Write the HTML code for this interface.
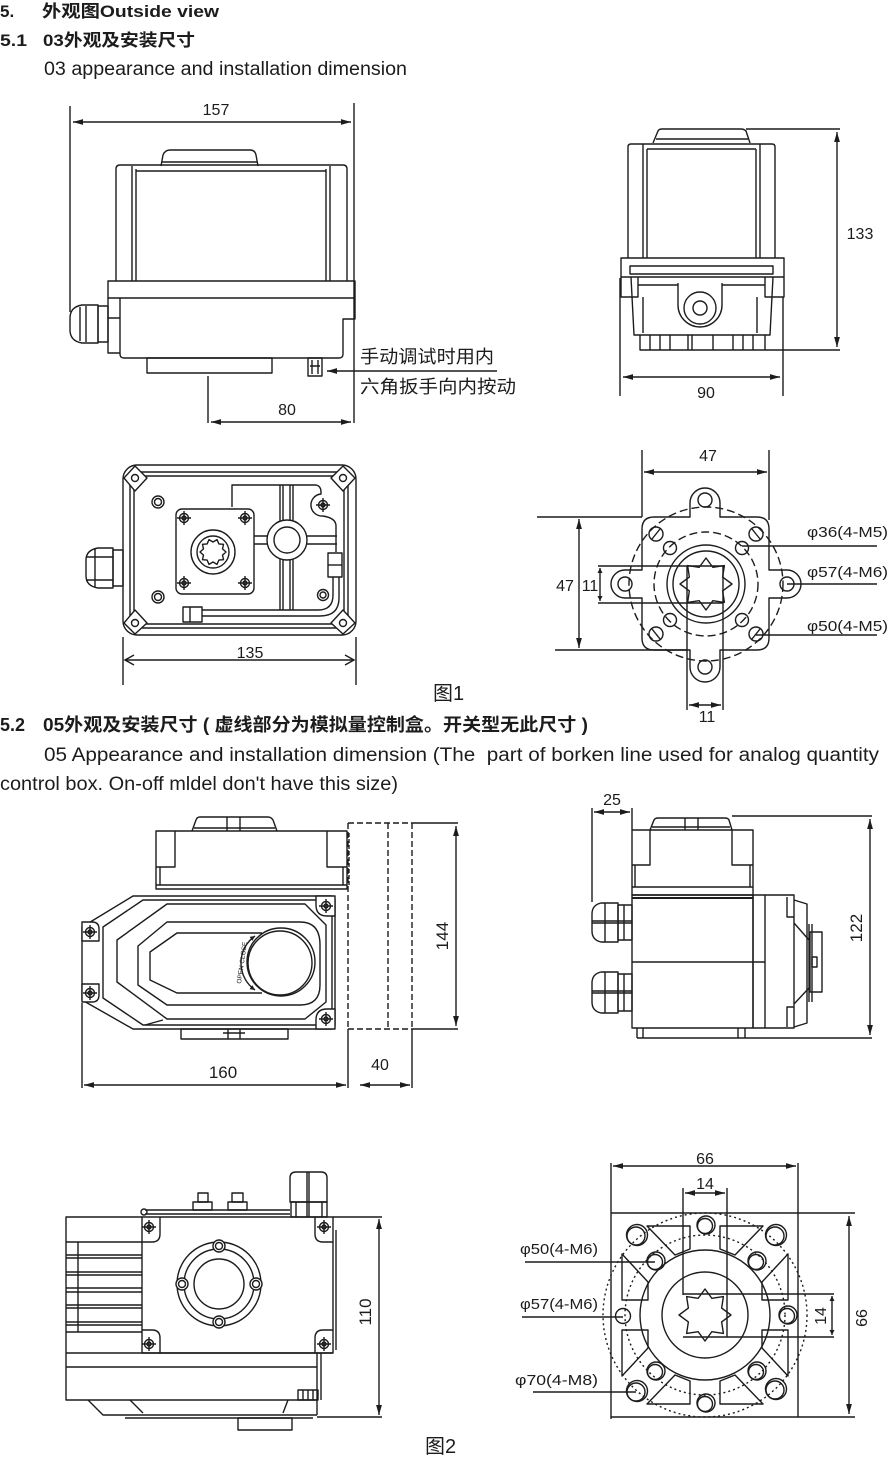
<!DOCTYPE html>
<html><head><meta charset="utf-8">
<style>
html,body{margin:0;padding:0;background:#fff;}
svg{display:block;}
text{font-family:"Liberation Sans","Noto Sans CJK SC",sans-serif;fill:#1c1c1c;white-space:pre;}
.b{font-weight:bold;}
.d{marker-start:url(#ar);marker-end:url(#ar);}
.ds{stroke-dasharray:8 4;}
.dt{stroke-dasharray:2 3;}
.w{fill:#fff;}
</style></head><body>
<svg width="890" height="1457" viewBox="0 0 890 1457" xmlns="http://www.w3.org/2000/svg">
<defs>
<marker id="ar" markerUnits="userSpaceOnUse" markerWidth="11" markerHeight="7" refX="10" refY="3.5" orient="auto-start-reverse"><path d="M0,0.6 L10,3.5 L0,6.4 Z" fill="#1c1c1c"/></marker>
<marker id="sm" markerUnits="userSpaceOnUse" markerWidth="6" markerHeight="5" refX="5" refY="2.5" orient="auto-start-reverse"><path d="M0,0 L5,2.5 L0,5 Z" fill="#1c1c1c"/></marker>
<marker id="ch" markerUnits="userSpaceOnUse" markerWidth="12" markerHeight="12" refX="10" refY="6" orient="auto-start-reverse"><path d="M1,1 L10,6 L1,11" fill="none" stroke="#1c1c1c" stroke-width="1.4"/></marker>
<polygon id="s8" points="26,0 16.63,6.89 18.38,18.38 6.89,16.63 0,26 -6.89,16.63 -18.38,18.38 -16.63,6.89 -26,0 -16.63,-6.89 -18.38,-18.38 -6.89,-16.63 0,-26 6.89,-16.63 18.38,-18.38 16.63,-6.89"/>
<polygon id="s10" points="13,0 9.51,3.09 10.52,7.64 5.88,8.09 4.02,12.36 0,10 -4.02,12.36 -5.88,8.09 -10.52,7.64 -9.51,3.09 -13,0 -9.51,-3.09 -10.52,-7.64 -5.88,-8.09 -4.02,-12.36 0,-10 4.02,-12.36 5.88,-8.09 10.52,-7.64 9.51,-3.09"/>
<g id="scr"><circle r="4.5"/><circle r="2"/><path d="M-7,0 H7 M0,-7 V7"/></g>
</defs>

<!-- ================= TEXT ================= -->
<g>
<text class="b" x="0" y="17" font-size="17">5.</text>
<text class="b" x="42" y="17" font-size="17" textLength="177" lengthAdjust="spacingAndGlyphs">外观图Outside view</text>
<text class="b" x="0" y="46" font-size="17" textLength="27" lengthAdjust="spacingAndGlyphs">5.1</text>
<text class="b" x="43" y="46" font-size="17" textLength="152" lengthAdjust="spacingAndGlyphs">03外观及安装尺寸</text>
<text x="44" y="75" font-size="19" textLength="363" lengthAdjust="spacingAndGlyphs">03 appearance and installation dimension</text>

<text class="b" x="0" y="731" font-size="18" textLength="25" lengthAdjust="spacingAndGlyphs">5.2</text>
<text class="b" x="43" y="731" font-size="18" textLength="545" lengthAdjust="spacingAndGlyphs">05外观及安装尺寸 ( 虚线部分为模拟量控制盒。开关型无此尺寸 )</text>
<text x="44" y="761" font-size="19" textLength="835" lengthAdjust="spacingAndGlyphs">05 Appearance and installation dimension (The  part of borken line used for analog quantity</text>
<text x="0" y="790" font-size="19" textLength="398" lengthAdjust="spacingAndGlyphs">control box. On-off mldel don't have this size)</text>

<!-- fig A -->
<text x="216" y="115" font-size="16" text-anchor="middle">157</text>
<text x="287" y="415" font-size="16" text-anchor="middle">80</text>
<text x="360" y="363" font-size="18" textLength="134" lengthAdjust="spacingAndGlyphs">手动调试时用内</text>
<text x="360" y="393" font-size="18" textLength="156" lengthAdjust="spacingAndGlyphs">六角扳手向内按动</text>
<!-- fig B -->
<text x="860" y="239" font-size="16" text-anchor="middle">133</text>
<text x="706" y="398" font-size="16" text-anchor="middle">90</text>
<!-- fig C -->
<text x="250" y="658" font-size="16" text-anchor="middle">135</text>
<text x="433" y="700" font-size="20">图1</text>
<!-- fig D -->
<text x="708" y="461" font-size="16" text-anchor="middle">47</text>
<text x="565" y="591" font-size="16" text-anchor="middle">47</text>
<text x="590" y="591" font-size="16" text-anchor="middle">11</text>
<text x="707" y="722" font-size="16" text-anchor="middle">11</text>
<text x="807" y="537" font-size="15" textLength="81" lengthAdjust="spacingAndGlyphs">φ36(4-M5)</text>
<text x="807" y="577" font-size="15" textLength="81" lengthAdjust="spacingAndGlyphs">φ57(4-M6)</text>
<text x="807" y="631" font-size="15" textLength="81" lengthAdjust="spacingAndGlyphs">φ50(4-M5)</text>
<!-- fig E -->
<text x="223" y="1078" font-size="17" text-anchor="middle">160</text>
<text x="380" y="1070" font-size="16" text-anchor="middle">40</text>
<text transform="translate(448,936) rotate(-90)" font-size="17" text-anchor="middle">144</text>
<text transform="translate(244,963) rotate(-82)" font-size="6.5" text-anchor="middle">OPEN CLOSE</text>
<!-- fig F -->
<text x="612" y="805" font-size="16" text-anchor="middle">25</text>
<text transform="translate(862,928) rotate(-90)" font-size="17" text-anchor="middle">122</text>
<!-- fig G -->
<text transform="translate(371,1312) rotate(-90)" font-size="17" text-anchor="middle">110</text>
<!-- fig H -->
<text x="705" y="1164" font-size="16" text-anchor="middle">66</text>
<text x="705" y="1189" font-size="16" text-anchor="middle">14</text>
<text transform="translate(867,1318) rotate(-90)" font-size="16" text-anchor="middle">66</text>
<text transform="translate(826,1316) rotate(-90)" font-size="16" text-anchor="middle">14</text>
<text x="520" y="1254" font-size="15" textLength="78" lengthAdjust="spacingAndGlyphs">φ50(4-M6)</text>
<text x="520" y="1309" font-size="15" textLength="78" lengthAdjust="spacingAndGlyphs">φ57(4-M6)</text>
<text x="515" y="1385" font-size="15" textLength="83" lengthAdjust="spacingAndGlyphs">φ70(4-M8)</text>
<text x="425" y="1453" font-size="20">图2</text>
</g>

<g fill="none" stroke="#1c1c1c" stroke-width="1.4" stroke-linejoin="round">

<!-- ================= FIG A ================= -->
<path d="M70,106 V312 M354,103 V423"/>
<path class="d" d="M73,122 H351"/>
<path d="M161,166 L163,155 Q165,150 170,150 H250 Q255,150 256,155 L258,166"/>
<path d="M162,162 H257"/>
<path d="M116,281 V169 Q116,165 120,165 H343 Q347,165 347,169 V281"/>
<path d="M132,166 V281 M136,169 V281 M326,169 V281 M330,166 V281 M136,171 H326"/>
<path d="M108,281 H355 V298 H108 Z"/>
<path d="M108,298 V353 H120 M120,318 H108"/>
<path d="M120,298 V354 Q120,358 124,358 H339 Q343,358 343,354 V319 H355 V298"/>
<rect x="147" y="358" width="125" height="15"/>
<path d="M98,305 H82 Q70,307 70,318 V330 Q70,341 82,343 H98 Z"/>
<rect x="98" y="306" width="10" height="36"/>
<path d="M80,307 V341 M86,306 V342"/>
<rect x="308" y="358" width="14" height="18"/>
<path d="M312,360 V374 M318,360 V374 M310,366 H320"/>
<path d="M327,371 H497" marker-start="url(#ar)"/>
<path d="M208,376 V423"/>
<path class="d" d="M211,422 H351"/>

<!-- ================= FIG B ================= -->
<path d="M653,143 L658,131 Q659,129 662,129 H741 Q744,129 746,131 L750,143"/>
<path d="M656,139 H748"/>
<path d="M746,129 H840"/>
<path d="M628,258 V147 Q628,144 631,144 H772 Q775,144 775,147 V258"/>
<path d="M643,144 V258 M647,149 V258 M756,149 V258 M760,144 V258 M647,149 H756"/>
<rect x="621" y="258" width="163" height="19"/>
<rect x="630" y="266" width="143" height="8"/>
<path d="M631,277 L634,335 H770 L773,277"/>
<path d="M621,277 V297 H638 V277 M784,277 V297 H765 V277"/>
<path d="M643,297 V333 M757,297 V333"/>
<path d="M638,285 H678 M722,285 H765"/>
<path d="M678,283 V305 A22,22 0 0 0 722,305 V283"/>
<circle cx="700" cy="308" r="16"/>
<circle cx="700" cy="308" r="7"/>
<path d="M640,335 V350 H765 V335"/>
<path d="M650,335V350 M660,335V350 M670,335V350 M688,335V350 M692,335V350 M713,335V350 M733,335V350 M743,335V350 M753,335V350"/>
<path d="M765,350 H840"/>
<path class="d" d="M837,132 V347"/>
<path d="M620,278 V396 M783,297 V396"/>
<path class="d" d="M623,377 H780"/>

<!-- ================= FIG C ================= -->
<rect x="123" y="465" width="233" height="170" rx="14"/>
<rect x="130" y="472" width="218" height="156" rx="5"/>
<rect x="134" y="476" width="210" height="148" rx="3"/>
<path class="w" d="M135,466 L147,478 L135,491 L124,478 Z"/>
<path class="w" d="M343,466 L355,478 L343,491 L331,478 Z"/>
<path class="w" d="M135,610 L147,623 L135,634 L124,623 Z"/>
<path class="w" d="M343,610 L355,623 L343,634 L331,623 Z"/>
<circle cx="135" cy="478" r="3.5"/><circle cx="343" cy="478" r="3.5"/>
<circle cx="135" cy="623" r="3.5"/><circle cx="343" cy="623" r="3.5"/>
<path d="M113,548 H98 Q86,550 86,560 V576 Q86,586 98,588 H113 Z"/>
<rect x="113" y="550" width="10" height="36"/>
<path d="M95,549 V587 M86,557 H113 M86,580 H113"/>
<circle cx="158" cy="502" r="6"/><circle cx="158" cy="502" r="3.5"/>
<circle cx="158" cy="597" r="6"/><circle cx="158" cy="597" r="3.5"/>
<path d="M232,507 V485 H316 Q321,486 321,492 V494 A11,11 0 0 0 323,516 Q336,518 336,526 V552"/>
<use href="#scr" x="323" y="505"/>
<circle cx="323" cy="595" r="5.5"/><circle cx="323" cy="595" r="3"/>
<path d="M183,610 H318 Q333,610 333,595 V555"/>
<path d="M183,616 H320 Q339,616 339,598 V555"/>
<path d="M280,485 V522 M283,485 V521 M290,485 V521 M293,485 V522"/>
<path d="M280,558 V610 M283,559 V610 M290,559 V610 M293,558 V610"/>
<path d="M254,536 H268 M254,544 H268 M306,536 H337 M306,544 H337"/>
<circle class="w" cx="287" cy="540" r="20"/>
<circle cx="287" cy="540" r="13"/>
<rect class="w" x="176" y="509" width="78" height="85" rx="6"/>
<use href="#scr" x="184" y="518"/><use href="#scr" x="245" y="518"/>
<use href="#scr" x="184" y="583"/><use href="#scr" x="245" y="583"/>
<circle cx="213" cy="552" r="22"/><circle cx="213" cy="552" r="16"/>
<use href="#s10" x="213" y="552"/>
<rect class="w" x="183" y="607" width="19" height="15"/>
<path d="M190,607 V622"/>
<rect class="w" x="328" y="553" width="14" height="24"/>
<path d="M328,565 H342"/>
<path d="M123,637 V685 M356,637 V685"/>
<path d="M125,660 H354" marker-start="url(#ch)" marker-end="url(#ch)"/>

<!-- ================= FIG D ================= -->
<path d="M642,450 V517 M769,450 V520"/>
<path class="d" d="M644,472 H767"/>
<path d="M537,517 H642 M555,650 H687"/>
<path class="d" d="M579,519 V648"/>
<path d="M654,517 H690 V503 A15,15 0 0 1 720,503 V517 H757 Q769,517 769,529 V570 H787 A14,14 0 0 1 787,598 H769 V638 Q769,650 757,650 H720 V667 A15,15 0 0 1 690,667 V650 H654 Q642,650 642,638 V598 H625 A14,14 0 0 1 625,570 H642 V529 Q642,517 654,517 Z"/>
<circle class="ds" cx="706" cy="584" r="77"/>
<circle class="ds" cx="706" cy="584" r="52"/>
<circle cx="706" cy="584" r="39"/><circle cx="706" cy="584" r="33"/>
<use href="#s8" x="706" y="584" class="w"/>
<path d="M598,566 H723 M598,603 H723"/>
<path d="M600,568 V601" marker-start="url(#sm)" marker-end="url(#sm)"/>
<path d="M687,566 V710 M723,566 V710"/>
<path class="d" d="M689,705 H721"/>
<circle cx="705" cy="500" r="7"/><circle cx="705" cy="667" r="7"/>
<circle cx="625" cy="584" r="7"/><circle cx="787" cy="584" r="7"/>
<circle cx="670" cy="548" r="6.5"/><circle cx="742" cy="548" r="6.5"/>
<circle cx="670" cy="620" r="6.5"/><circle cx="742" cy="620" r="6.5"/>
<circle cx="656" cy="534" r="7"/><circle cx="756" cy="534" r="7"/>
<circle cx="656" cy="634" r="7"/><circle cx="756" cy="634" r="7"/>
<path d="M652,539 L660,529 M752,529 L760,539 M652,629 L660,639 M752,639 L760,629"/>
<path d="M742,546 H877 M787,584 H877 M756,635 H877"/>

<!-- ================= FIG E ================= -->
<path d="M192,831 L196,820 Q197,817 200,817 H268 Q271,817 273,820 L277,831"/>
<path d="M227,817 V831 M240,817 V831 M194,828 H275"/>
<rect x="156" y="831" width="191" height="58"/>
<path d="M175,831 V867 H156 M327,831 V867 H347 M160,867 V885 M343,867 V885 M156,885 H347"/>
<path d="M349,833 V885" stroke-dasharray="4 2"/>
<path d="M133,896 H331 Q335,896 335,900 V1025 Q335,1029 331,1029 H133 L82,1000 V927 Z"/>
<path d="M103,927 L143,900 H318 L332,914 V1012 L318,1025 H143 L103,998 Z"/>
<path d="M117,940 L167,904 H305 L326,925 V1002 L305,1019 H167 L117,982 Z"/>
<path d="M138,946 L167,922 H300 Q320,922 320,945 V985 Q320,1005 300,1005 H167 L138,985 Z"/>
<path d="M262,933 H177 L150,952 V980 L177,993 H262"/>
<circle cx="281" cy="962" r="34"/>
<circle class="w" cx="280" cy="963" r="32"/>
<path d="M255,936 A33,33 0 0 0 255,990" marker-start="url(#sm)" marker-end="url(#sm)"/>
<path class="w" d="M316,896 V905 Q316,916 327,916 H335 V896 Z"/>
<path class="w" d="M316,1029 V1020 Q316,1009 327,1009 H335 V1029 Z"/>
<path class="w" d="M82,922 H92 Q99,922 99,929 V941 H82 Z"/>
<path class="w" d="M82,1002 H92 Q99,1002 99,995 V984 H82 Z"/>
<use href="#scr" x="326" y="906"/><use href="#scr" x="90" y="932"/>
<use href="#scr" x="90" y="993"/><use href="#scr" x="326" y="1019"/>
<path d="M145,1025 L163,1020"/>
<rect x="181" y="1029" width="107" height="10"/>
<path d="M223,1033 H245 M228,1029 V1039 M240,1029 V1039"/>
<path d="M348,823 H412 M348,1029 H412 M348,823 V1029 M388,823 V1029 M412,823 V1029" stroke-dasharray="6 3"/>
<path d="M412,823 H458 M412,1029 H458"/>
<path class="d" d="M456,826 V1026"/>
<path d="M82,1003 V1088 M348,1029 V1088 M412,1029 V1088"/>
<path class="d" d="M84,1085 H346"/>
<path class="d" d="M360,1085 H410"/>

<!-- ================= FIG F ================= -->
<path d="M592,808 V902 M632,808 V830"/>
<path class="d" d="M594,812 H630"/>
<path d="M650,830 L654,820 Q655,818 658,818 H725 Q728,818 729,820 L732,830"/>
<path d="M685,818 V830 M698,818 V830 M652,827 H730"/>
<path d="M732,816 H872"/>
<rect x="632" y="830" width="121" height="65"/>
<path d="M650,830 V865 H632 M732,830 V865 H753 M635,865 V887 M750,865 V887 M632,887 H753"/>
<rect x="632" y="895" width="121" height="133"/>
<path d="M632,898 H753" stroke-width="2"/>
<path d="M632,962 H765"/>
<rect x="753" y="895" width="41" height="133"/>
<path d="M765,895 V1028"/>
<path d="M787,897 V917 H794 M787,1027 V1007 H794"/>
<path d="M794,900 L807,904 V1023 L794,1027"/>
<path d="M794,923 L809,940 M794,1004 L809,988 M809,924 V1002 M812,924 V1002"/>
<rect x="810" y="932" width="12" height="60"/>
<rect x="812" y="957" width="5" height="10"/>
<path d="M618,903 H601 Q592,905 592,914 V931 Q592,940 601,942 H618 Z"/>
<rect x="618" y="905" width="14" height="35"/>
<path d="M592,921 H632 M592,923 H632 M605,903 V942 M624,905 V940"/>
<path d="M618,972 H601 Q592,974 592,983 V1002 Q592,1011 601,1013 H618 Z"/>
<rect x="618" y="974" width="14" height="37"/>
<path d="M592,991 H632 M592,993 H632 M605,972 V1013 M624,974 V1011"/>
<path d="M637,1028 V1038 M643,1028 V1038 M738,1028 V1038 M745,1028 V1038 M637,1038 H872"/>
<path class="d" d="M870,819 V1035"/>

<!-- ================= FIG G ================= -->
<path d="M142,1217 H66 V1400 H317"/>
<path d="M66,1242 H142 M66,1255 H142 M66,1258 H142 M66,1272 H142 M66,1275 H142 M66,1288 H142 M66,1292 H142 M66,1305 H142 M66,1308 H142 M66,1322 H142 M66,1325 H142 M66,1332 H142 M78,1242 V1332"/>
<rect x="142" y="1217" width="191" height="136"/>
<path d="M336,1230 V1350"/>
<path d="M142,1242 H152 Q160,1242 160,1234 V1217 M333,1242 H323 Q315,1242 315,1234 V1217 M142,1330 H152 Q160,1330 160,1338 V1353 M333,1330 H323 Q315,1330 315,1338 V1353"/>
<use href="#scr" x="149" y="1227"/><use href="#scr" x="324" y="1227"/>
<use href="#scr" x="149" y="1344"/><use href="#scr" x="324" y="1344"/>
<circle cx="219" cy="1284" r="42"/>
<circle cx="219" cy="1284" r="35"/>
<circle cx="219" cy="1284" r="25"/>
<circle class="w" cx="219" cy="1246" r="6"/><circle cx="219" cy="1246" r="3.5"/>
<circle class="w" cx="219" cy="1322" r="6"/><circle cx="219" cy="1322" r="3.5"/>
<circle class="w" cx="182" cy="1284" r="6"/><circle cx="182" cy="1284" r="3.5"/>
<circle class="w" cx="256" cy="1284" r="6"/><circle cx="256" cy="1284" r="3.5"/>
<path d="M66,1353 H333 M66,1367 H317 M317,1353 V1415 M321,1353 V1400"/>
<rect x="298" y="1390" width="20" height="10"/>
<path d="M303,1390 V1400 M308,1390 V1400 M313,1390 V1400"/>
<path d="M88,1400 L103,1415 H317"/>
<path d="M125,1418 H313 M130,1400 L143,1413 M288,1400 L283,1413"/>
<rect x="238" y="1418" width="54" height="12"/>
<path d="M145,1210 H290 M145,1214 H290"/>
<circle cx="144" cy="1212" r="3"/>
<rect x="193" y="1202" width="19" height="8"/><rect x="198" y="1193" width="10" height="9"/>
<rect x="228" y="1202" width="19" height="8"/><rect x="232" y="1193" width="11" height="9"/>
<path d="M290,1202 V1178 Q290,1172 296,1172 H321 Q327,1172 327,1178 V1202 Z"/>
<rect x="291" y="1202" width="36" height="15"/>
<path d="M307,1172 V1217 M309,1172 V1217 M296,1202 V1217 M322,1202 V1217"/>
<path d="M333,1217 H382 M317,1417 H382"/>
<path class="d" d="M379,1219 V1415"/>

<!-- ================= FIG H ================= -->
<path d="M611,1163 V1419 M798,1163 V1417"/>
<path class="d" d="M613,1166 H796"/>
<path d="M611,1213 H855 M611,1417 H855"/>
<path class="d" d="M849,1216 V1414"/>
<circle class="dt" cx="705" cy="1315" r="102"/>
<circle class="dt" cx="705" cy="1315" r="80"/>
<circle cx="705" cy="1315" r="65"/>
<path d="M647,1226 H690 V1249 L675,1255 Z M763,1226 H720 V1249 L735,1255 Z"/>
<path d="M647,1404 H690 V1381 L675,1375 Z M763,1404 H720 V1381 L735,1375 Z"/>
<path d="M622,1254 L648,1282 V1300 H622 Z M622,1376 L648,1348 V1330 H622 Z"/>
<path d="M788,1254 L762,1282 V1300 H788 Z M788,1376 L762,1348 V1330 H788 Z"/>
<circle cx="705" cy="1315" r="43"/>
<use href="#s8" x="705" y="1315" class="w"/>
<path d="M683,1188 V1295 M727,1188 V1337"/>
<path class="d" d="M685,1193 H725"/>
<path d="M683,1294 H834 M683,1337 H834"/>
<path d="M832,1296 V1335" marker-start="url(#sm)" marker-end="url(#sm)"/>
<circle cx="636" cy="1236" r="9"/><circle cx="637" cy="1235" r="10.5"/>
<circle cx="775" cy="1236" r="9"/><circle cx="776" cy="1235" r="10.5"/>
<circle cx="636" cy="1392" r="9"/><circle cx="637" cy="1391" r="10.5"/>
<circle cx="775" cy="1390" r="9"/><circle cx="776" cy="1389" r="10.5"/>
<circle cx="705" cy="1226" r="7.5"/><circle cx="706" cy="1225" r="9"/>
<circle cx="705" cy="1404" r="7.5"/><circle cx="706" cy="1403" r="9"/>
<circle cx="623" cy="1316" r="7.5"/><circle cx="787" cy="1316" r="7.5"/><circle cx="788" cy="1315" r="9"/>
<circle cx="655" cy="1262" r="7.5"/><circle cx="656" cy="1261" r="9"/>
<circle cx="756" cy="1262" r="7.5"/><circle cx="757" cy="1261" r="9"/>
<circle cx="655" cy="1372" r="7.5"/><circle cx="656" cy="1371" r="9"/>
<circle cx="756" cy="1372" r="7.5"/><circle cx="757" cy="1371" r="9"/>
<path d="M525,1262 H655 M522,1317 H623 M533,1392 H636"/>
</g>
</svg>
</body></html>
